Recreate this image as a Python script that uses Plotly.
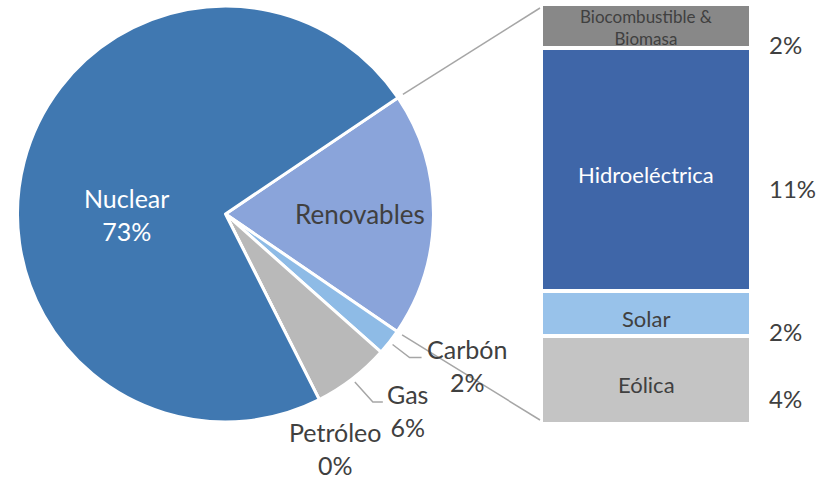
import numpy as np
import plotly.graph_objects as go

W, H = 830, 480

# ---- data: main pie (clockwise, starting with Renovables) ----
pie_labels = ["Renovables", "Carbón", "Gas", "Petróleo", "Nuclear"]
pie_values = [19, 2, 6, 0, 73]
pie_colors = ["#8AA4DA", "#8EBBE6", "#B9B9B9", "#A0A0A0", "#4078B1"]

# ---- data: breakdown of Renovables (stacked bar, bottom to top) ----
bar_labels = ["Eólica", "Solar", "Hidroeléctrica", "Biocombustible &<br>Biomasa"]
bar_values = [4, 2, 11, 2]
bar_colors = ["#C4C4C4", "#98C2EA", "#3F66A8", "#888888"]
bar_text_colors = ["#404040", "#404040", "#FFFFFF", "#404040"]
bar_text_sizes = [22, 22, 22, 17]

FONT = "Lato"
TXT = "#404040"
LINE = "#A6A6A6"

# geometry (pixels)
PIE_CX, PIE_CY, PIE_R = 225.5, 214, 208
ROTATION = 56
BAR_X0, BAR_X1, BAR_Y0, BAR_Y1 = 541, 751, 4, 424


def P(x, y):
    return x / W, 1 - y / H


def pie_pt(angle_deg, r):
    a = np.deg2rad(angle_deg)
    return PIE_CX + r * np.sin(a), PIE_CY - r * np.cos(a)


total = sum(pie_values)
starts, mids = [], []
acc = ROTATION
for v in pie_values:
    span = 360 * v / total
    starts.append(acc)
    mids.append(acc + span / 2)
    acc += span
ends = [s + 360 * v / total for s, v in zip(starts, pie_values)]

fig = go.Figure()

fig.add_trace(go.Pie(
    labels=pie_labels, values=pie_values, sort=False, direction="clockwise",
    rotation=ROTATION, textinfo="none", hoverinfo="label+percent",
    marker=dict(colors=pie_colors, line=dict(color="white", width=3)),
    domain=dict(x=[(PIE_CX - PIE_R) / W, (PIE_CX + PIE_R) / W],
                y=[1 - (PIE_CY + PIE_R) / H, 1 - (PIE_CY - PIE_R) / H]),
    showlegend=False,
))

for lab, v, c in zip(bar_labels, bar_values, bar_colors):
    fig.add_trace(go.Bar(x=[0], y=[v], width=1, name=lab.replace("<br>", " "),
                         marker=dict(color=c, line=dict(color="white", width=4)),
                         showlegend=False, hoverinfo="name+y"))

bar_total = sum(bar_values)
ann = []
cum = 0
for lab, v, tc, ts in zip(bar_labels, bar_values, bar_text_colors, bar_text_sizes):
    mid = cum + v / 2
    cum += v
    ann.append(dict(x=0, y=mid, xref="x", yref="y", text=lab, showarrow=False,
                    font=dict(family=FONT, size=ts, color=tc),
                    xanchor="center", yanchor="middle",
                    yshift=-5 if ts > 18 else -1))
    ann.append(dict(x=0.5, y=mid, xref="x", yref="y", text=f"{v}%", showarrow=False,
                    font=dict(family=FONT, size=24, color=TXT),
                    xanchor="left", yanchor="middle", xshift=16, yshift=-18.5))

pct = {l: round(100 * v / total) for l, v in zip(pie_labels, pie_values)}

def add_pie_label(x, y, text, color=TXT, size=25):
    px_, py_ = P(x, y)
    ann.append(dict(x=px_, y=py_, xref="paper", yref="paper", text=text, showarrow=False,
                    font=dict(family=FONT, size=size, color=color),
                    xanchor="center", yanchor="middle"))

add_pie_label(126, 214, f"Nuclear<br>{pct['Nuclear']}%", "white")
rx, ry = pie_pt(mids[0], PIE_R * 0.645)
add_pie_label(rx, ry, "Renovables", size=26)
add_pie_label(467, 365, f"Carbón<br>{pct['Carbón']}%")
add_pie_label(407, 410, f"Gas<br>{pct['Gas']}%")
add_pie_label(335, 448, f"Petróleo<br>{pct['Petróleo']}%")

shapes = []

def seg(points):
    path = "M " + " L ".join(f"{P(x, y)[0]},{P(x, y)[1]}" for x, y in points)
    shapes.append(dict(type="path", path=path, xref="paper", yref="paper",
                       line=dict(color=LINE, width=1.5)))

# connector lines between pie and bar
seg([pie_pt(starts[0], PIE_R + 6), (BAR_X0 - 1, BAR_Y0 + 4)])
seg([pie_pt(ends[0], PIE_R + 6), (BAR_X0 - 1, BAR_Y1 - 4)])

# leader lines
c0 = pie_pt(mids[1], PIE_R + 4)
seg([c0, (c0[0] + 17, c0[1] + 13), (c0[0] + 29, c0[1] + 13)])
g0 = pie_pt(mids[2], PIE_R + 4)
seg([g0, (g0[0] + 18, g0[1] + 20), (g0[0] + 28, g0[1] + 20)])

fig.update_layout(
    width=W, height=H, margin=dict(l=0, r=0, t=0, b=0),
    paper_bgcolor="white", plot_bgcolor="white",
    barmode="stack", bargap=0,
    xaxis=dict(domain=[BAR_X0 / W, BAR_X1 / W], range=[-0.5, 0.5], visible=False, fixedrange=True),
    yaxis=dict(domain=[1 - BAR_Y1 / H, 1 - BAR_Y0 / H], range=[0, bar_total], visible=False, fixedrange=True),
    annotations=ann, shapes=shapes, showlegend=False,
    font=dict(family=FONT, color=TXT),
)

fig.write_html("out.html", config={"displayModeBar": False},
               post_script="document.body.style.margin='0px';")
